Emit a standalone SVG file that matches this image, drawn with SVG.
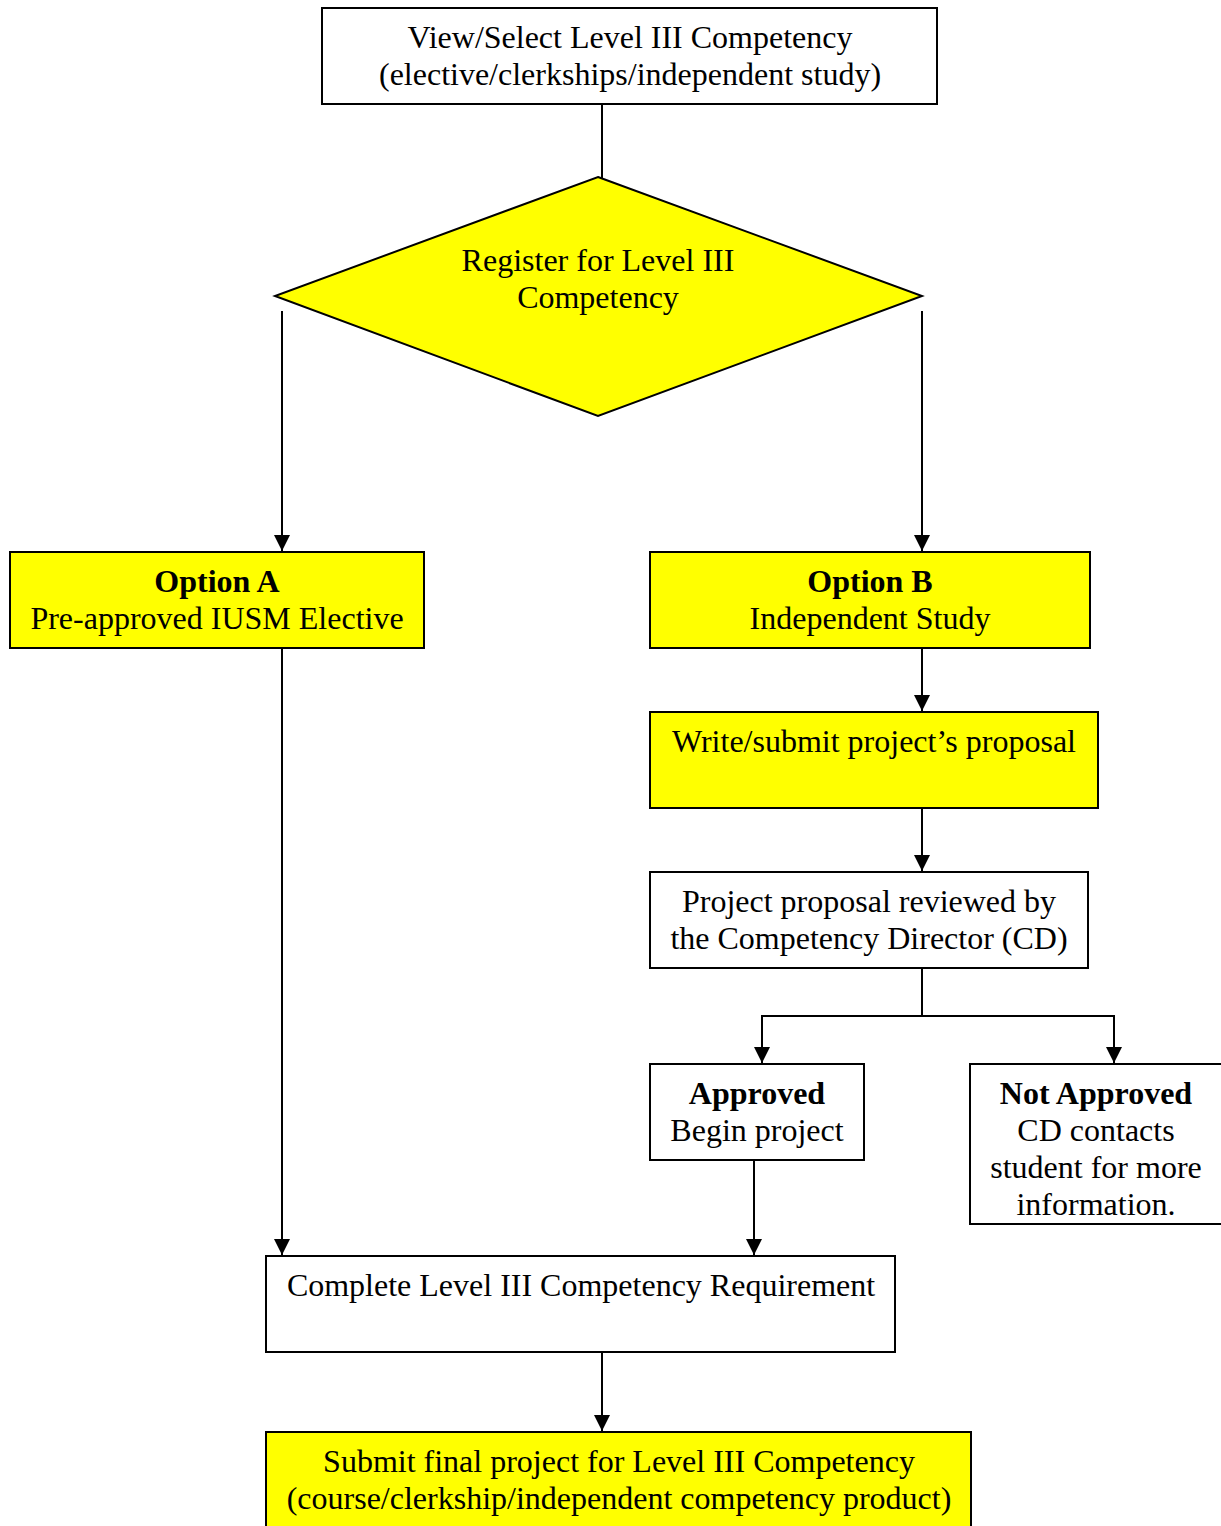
<svg xmlns="http://www.w3.org/2000/svg" width="1221" height="1526" viewBox="0 0 1221 1526">
<defs>
<marker id="ah" markerUnits="userSpaceOnUse" markerWidth="16" markerHeight="18" refX="16" refY="8" orient="auto" viewBox="0 0 16 16">
<path d="M0,0 L16,8 L0,16 Z" fill="#000"/>
</marker>
</defs>
<style>
.box{fill:#fff;stroke:#000;stroke-width:2}
.yel{fill:#ffff00;stroke:#000;stroke-width:2}
.t{font-family:"Liberation Serif","Times New Roman",serif;font-size:32px;fill:#000;text-anchor:middle}
.b{font-weight:bold}
.c{fill:none;stroke:#000;stroke-width:2}
</style>
<rect width="1221" height="1526" fill="#fff"/>
<g id="connectors">
<line class="c" x1="602" y1="104" x2="602" y2="184"/>
<line class="c" x1="282" y1="311" x2="282" y2="551" marker-end="url(#ah)"/>
<line class="c" x1="922" y1="311" x2="922" y2="551" marker-end="url(#ah)"/>
<line class="c" x1="922" y1="648" x2="922" y2="711" marker-end="url(#ah)"/>
<line class="c" x1="922" y1="808" x2="922" y2="871" marker-end="url(#ah)"/>
<polyline class="c" points="922,968 922,1016 762,1016 762,1063" marker-end="url(#ah)"/>
<polyline class="c" points="922,1016 1114,1016 1114,1063" marker-end="url(#ah)"/>
<line class="c" x1="754" y1="1160" x2="754" y2="1255" marker-end="url(#ah)"/>
<line class="c" x1="282" y1="648" x2="282" y2="1255" marker-end="url(#ah)"/>
<line class="c" x1="602" y1="1352" x2="602" y2="1431" marker-end="url(#ah)"/>
</g>
<g id="view">
<rect class="box" x="322" y="8" width="615" height="96"/>
<text class="t" x="630" y="48">View/Select Level III Competency</text>
<text class="t" x="630" y="85">(elective/clerkships/independent study)</text>
</g>
<g id="register">
<polygon class="yel" points="598,177 922,296 598,416 275,296"/>
<text class="t" x="598" y="271">Register for Level III</text>
<text class="t" x="598" y="308">Competency</text>
</g>
<g id="optionA">
<rect class="yel" x="10" y="552" width="414" height="96"/>
<text class="t b" x="217" y="592">Option A</text>
<text class="t" x="217" y="629">Pre-approved IUSM Elective</text>
</g>
<g id="optionB">
<rect class="yel" x="650" y="552" width="440" height="96"/>
<text class="t b" x="870" y="592">Option B</text>
<text class="t" x="870" y="629">Independent Study</text>
</g>
<g id="write">
<rect class="yel" x="650" y="712" width="448" height="96"/>
<text class="t" x="874" y="752">Write/submit project’s proposal</text>
</g>
<g id="review">
<rect class="box" x="650" y="872" width="438" height="96"/>
<text class="t" x="869" y="912">Project proposal reviewed by</text>
<text class="t" x="869" y="949">the Competency Director (CD)</text>
</g>
<g id="approved">
<rect class="box" x="650" y="1064" width="214" height="96"/>
<text class="t b" x="757" y="1104">Approved</text>
<text class="t" x="757" y="1141">Begin project</text>
</g>
<g id="notapproved">
<rect class="box" x="970" y="1064" width="260" height="160"/>
<text class="t b" x="1096" y="1104">Not Approved</text>
<text class="t" x="1096" y="1141">CD contacts</text>
<text class="t" x="1096" y="1178">student for more</text>
<text class="t" x="1096" y="1215">information.</text>
</g>
<g id="complete">
<rect class="box" x="266" y="1256" width="629" height="96"/>
<text class="t" x="581" y="1296">Complete Level III Competency Requirement</text>
</g>
<g id="submit">
<rect class="yel" x="266" y="1432" width="705" height="110"/>
<text class="t" x="619" y="1472">Submit final project for Level III Competency</text>
<text class="t" x="619" y="1509">(course/clerkship/independent competency product)</text>
</g>
</svg>
